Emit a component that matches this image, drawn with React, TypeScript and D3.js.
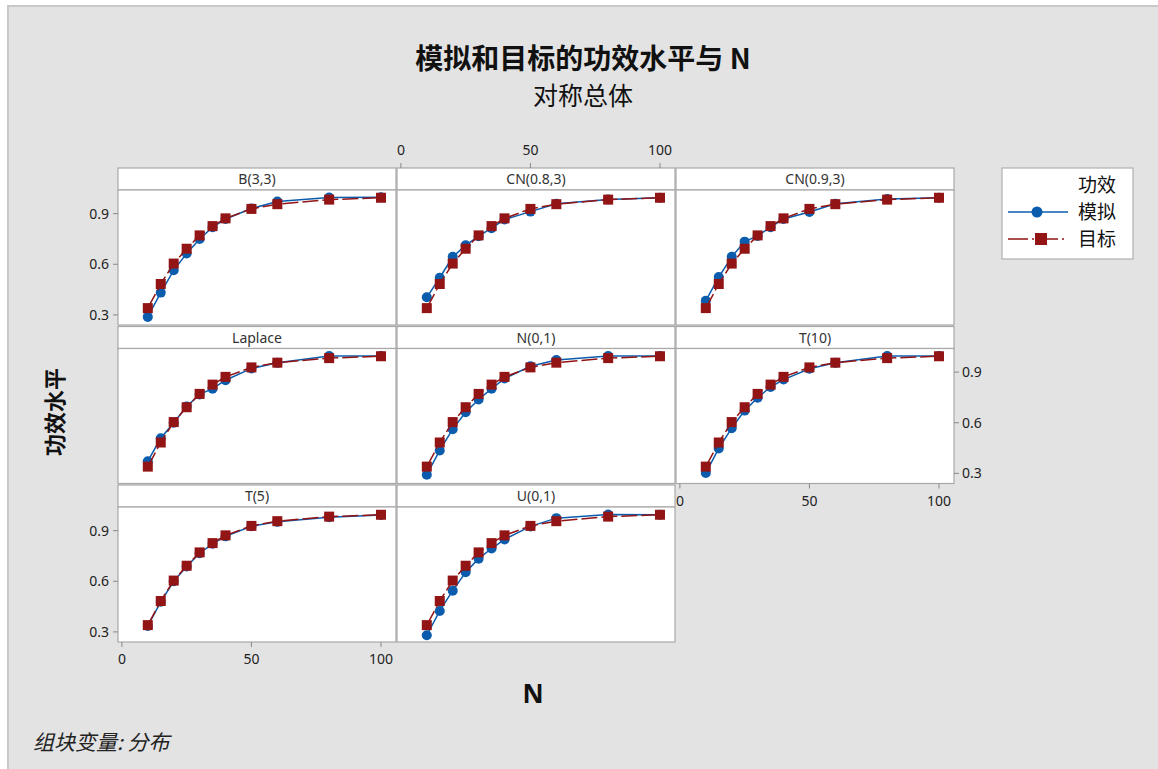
import React from "react";
import * as d3 from "d3";

// sample sizes and distributions
const nValues = [10, 15, 20, 25, 30, 35, 40, 50, 60, 80, 100];
const panelNames = ["B(3,3)", "CN(0.8,3)", "CN(0.9,3)", "Laplace", "N(0,1)", "T(10)", "T(5)", "U(0,1)"];

// target (theoretical) power, same for every panel
const targetPower = [0.34, 0.483, 0.604, 0.692, 0.771, 0.826, 0.872, 0.928, 0.956, 0.983, 0.994];

// simulated power per distribution
const simB33 = [0.288, 0.432, 0.564, 0.664, 0.75, 0.82, 0.868, 0.93, 0.972, 0.995, 0.997];
const simCN083 = [0.404, 0.52, 0.644, 0.712, 0.766, 0.814, 0.865, 0.912, 0.958, 0.984, 0.994];
const simCN093 = [0.384, 0.524, 0.644, 0.734, 0.768, 0.82, 0.868, 0.91, 0.958, 0.986, 0.994];
const simLaplace = [0.372, 0.508, 0.6, 0.696, 0.768, 0.802, 0.852, 0.922, 0.955, 0.996, 0.996];
const simN01 = [0.292, 0.436, 0.562, 0.662, 0.738, 0.802, 0.862, 0.935, 0.972, 0.995, 0.996];
const simT10 = [0.302, 0.448, 0.568, 0.672, 0.748, 0.812, 0.856, 0.92, 0.955, 0.995, 0.995];
const simT5 = [0.335, 0.478, 0.6, 0.688, 0.766, 0.822, 0.866, 0.926, 0.952, 0.979, 0.993];
const simU01 = [0.28, 0.424, 0.544, 0.654, 0.734, 0.794, 0.848, 0.925, 0.974, 0.996, 0.994];

const simulated = [simB33, simCN083, simCN093, simLaplace, simN01, simT10, simT5, simU01];

const xTicks = [0, 50, 100];
const yTicks = [0.3, 0.6, 0.9];

const BLUE = "#0b5cad";
const RED = "#921414";
const FONT = "'Noto Sans', 'Noto Sans CJK SC', sans-serif";
const CJK = "'Noto Sans CJK SC', sans-serif";

const colLeft = [118, 397, 676];
const panelW = 278;
const rowTop = [168, 326.5, 485];
const stripH = 22;
const plotH = 135;

const App = () => {
  const x0 = d3.scaleLinear().domain([-1.5, 105.8]).range([0, panelW]);
  const y0 = d3.scaleLinear().domain([0.24, 1.04]).range([plotH, 0]);

  const lineGen = d3
    .line<number>()
    .x((d, i) => x0(nValues[i]))
    .y((d) => y0(d));

  const panels = panelNames.map((name, k) => {
    const col = k % 3;
    const row = Math.floor(k / 3);
    const left = colLeft[col];
    const top = rowTop[row];
    const sim = simulated[k];
    return (
      <g key={name} transform={`translate(${left},${top})`}>
        <rect x={0} y={0} width={panelW} height={stripH} fill="#fff" stroke="#a8a8a8" strokeWidth={1.2} />
        <text x={panelW / 2} y={stripH / 2 + 5} textAnchor="middle" fontSize={14} fill="#333" fontFamily={FONT}>
          {name}
        </text>
        <g transform={`translate(0,${stripH})`}>
          <rect x={0} y={0} width={panelW} height={plotH} fill="#fff" stroke="#a8a8a8" strokeWidth={1.2} />
          <path d={lineGen(sim) || ""} fill="none" stroke={BLUE} strokeWidth={1.5} />
          {sim.map((v, i) => (
            <circle key={"c" + i} cx={x0(nValues[i])} cy={y0(v)} r={5} fill={BLUE} />
          ))}
          <path d={lineGen(targetPower) || ""} fill="none" stroke={RED} strokeWidth={1.5} strokeDasharray="16,4" />
          {targetPower.map((v, i) => (
            <rect key={"s" + i} x={x0(nValues[i]) - 5} y={y0(v) - 5} width={10} height={10} fill={RED} />
          ))}
        </g>
      </g>
    );
  });

  const tickColor = "#888";
  const labelColor = "#222";

  const leftAxis = (top: number, key: string) => (
    <g key={key} transform={`translate(${colLeft[0]},${top + stripH})`}>
      {yTicks.map((t) => (
        <g key={t} transform={`translate(0,${y0(t)})`}>
          <line x1={-5} x2={0} stroke={tickColor} />
          <text x={-9} y={5} textAnchor="end" fontSize={14} fill={labelColor} fontFamily={FONT}>
            {t.toFixed(1)}
          </text>
        </g>
      ))}
    </g>
  );

  const rightAxis = (top: number, key: string) => (
    <g key={key} transform={`translate(${colLeft[2] + panelW},${top + stripH})`}>
      {yTicks.map((t) => (
        <g key={t} transform={`translate(0,${y0(t)})`}>
          <line x1={0} x2={5} stroke={tickColor} />
          <text x={8} y={5} textAnchor="start" fontSize={14} fill={labelColor} fontFamily={FONT}>
            {t.toFixed(1)}
          </text>
        </g>
      ))}
    </g>
  );

  const bottomAxis = (left: number, yPos: number, key: string) => (
    <g key={key} transform={`translate(${left},${yPos})`}>
      {xTicks.map((t) => (
        <g key={t} transform={`translate(${x0(t)},0)`}>
          <line y1={0} y2={5} stroke={tickColor} />
          <text y={22} textAnchor="middle" fontSize={14} fill={labelColor} fontFamily={FONT}>
            {t}
          </text>
        </g>
      ))}
    </g>
  );

  const topAxis = (left: number, yPos: number, key: string) => (
    <g key={key} transform={`translate(${left},${yPos})`}>
      {xTicks.map((t) => (
        <g key={t} transform={`translate(${x0(t)},0)`}>
          <line y1={0} y2={-5} stroke={tickColor} />
          <text y={-13} textAnchor="middle" fontSize={14} fill={labelColor} fontFamily={FONT}>
            {t}
          </text>
        </g>
      ))}
    </g>
  );

  return (
    <svg
      width={1158}
      height={769}
      style={{ position: "absolute", left: 0, top: 0 }}
      xmlns="http://www.w3.org/2000/svg"
    >
      <rect x={0} y={0} width={1158} height={769} fill="#fff" />
      <rect x={8} y={6} width={1152} height={765} fill="#e3e3e3" stroke="#c8c8c8" strokeWidth={2} />

      <text x={583} y={69} textAnchor="middle" fontSize={28} fontWeight="bold" fill="#111" fontFamily={CJK}>
        模拟和目标的功效水平与 N
      </text>
      <text x={583} y={105} textAnchor="middle" fontSize={25} fill="#111" fontFamily={CJK}>
        对称总体
      </text>

      {panels}

      {leftAxis(rowTop[0], "l1")}
      {leftAxis(rowTop[2], "l3")}
      {rightAxis(rowTop[1], "r2")}
      {topAxis(colLeft[1], rowTop[0], "t2")}
      {bottomAxis(colLeft[0], rowTop[2] + stripH + plotH, "b1")}
      {bottomAxis(colLeft[2], rowTop[1] + stripH + plotH, "b3")}

      <text
        transform="translate(63,412) rotate(-90)"
        textAnchor="middle"
        fontSize={22}
        fontWeight="bold"
        fill="#111"
        fontFamily={CJK}
      >
        功效水平
      </text>
      <text x={533} y={703} textAnchor="middle" fontSize={26} fontWeight="bold" fill="#111" fontFamily={FONT}>
        N
      </text>
      <text x={33} y={750} fontSize={21} fontStyle="italic" fill="#222" fontFamily={CJK}>
        组块变量: 分布
      </text>

      {/* legend */}
      <g transform="translate(1002,168)">
        <rect x={0} y={0} width={131} height={91} fill="#fff" stroke="#b0b0b0" strokeWidth={1.2} />
        <text x={76} y={24} fontSize={19} fill="#111" fontFamily={CJK}>
          功效
        </text>
        <line x1={6} x2={66} y1={44} y2={44} stroke={BLUE} strokeWidth={1.5} />
        <circle cx={35} cy={44} r={5.5} fill={BLUE} />
        <text x={76} y={51} fontSize={19} fill="#111" fontFamily={CJK}>
          模拟
        </text>
        <line x1={6} x2={66} y1={71} y2={71} stroke={RED} strokeWidth={1.5} strokeDasharray="20,4,2,4" />
        <rect x={33} y={65} width={12} height={12} fill={RED} />
        <text x={76} y={78} fontSize={19} fill="#111" fontFamily={CJK}>
          目标
        </text>
      </g>
    </svg>
  );
};

export default App;
